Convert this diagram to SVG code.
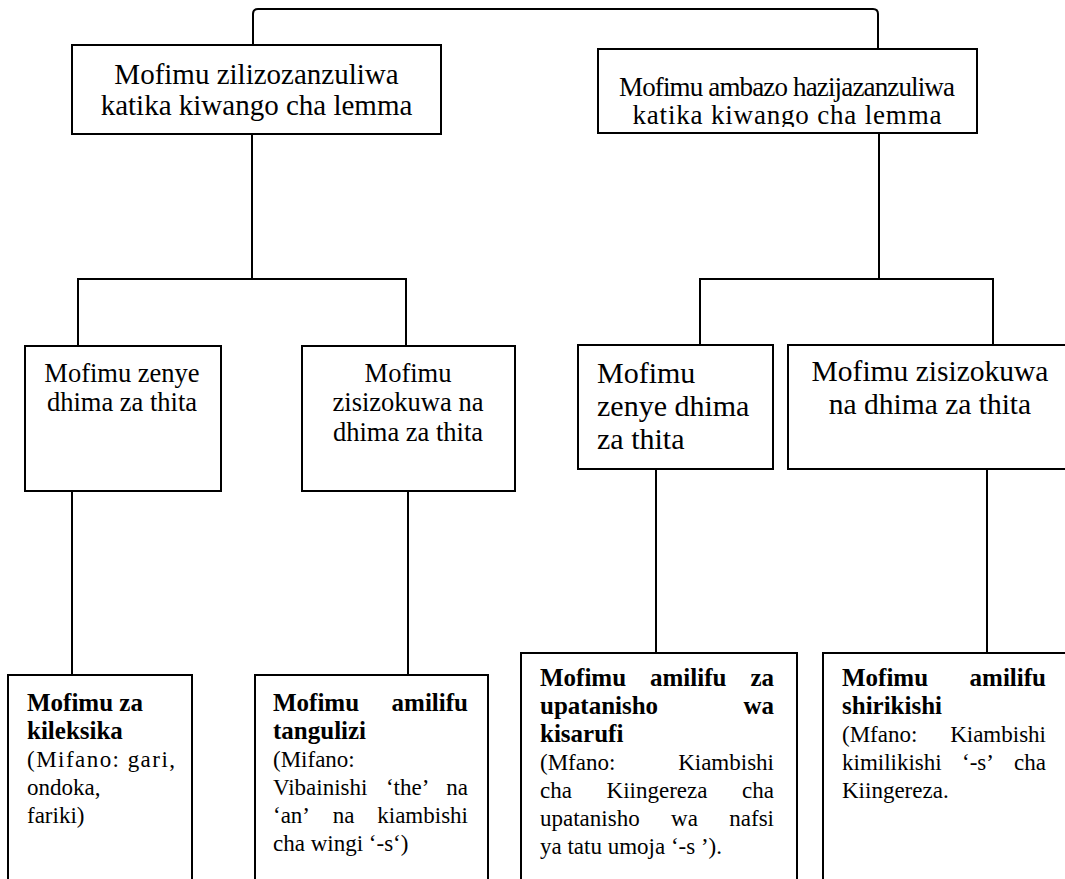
<svg xmlns="http://www.w3.org/2000/svg" width="1065" height="879" viewBox="0 0 1065 879">
<defs>
<style>
.box{fill:#fff;stroke:#000;stroke-width:2}
.conn{fill:none;stroke:#000;stroke-width:2}
text{font-family:"Liberation Serif","Times New Roman",serif;fill:#000}
.h1{font-size:29px;text-anchor:middle}
.h2{font-size:27px;text-anchor:middle}
.m1{font-size:26.5px;text-anchor:middle}
.m2{font-size:30px}
.m3{font-size:29.5px;text-anchor:middle}
.bd{font-size:23px}
.bb{font-size:25px;font-weight:bold}
.e{text-anchor:end}
</style>
<clipPath id="clip2"><rect x="598" y="49" width="380" height="78"/></clipPath>
</defs>
<rect width="1065" height="879" fill="#fff"/>
<g id="connectors">
<path class="conn" d="M253,45 V14 Q253,9 258,9 H873 Q878,9 878,14 V49"/>
<path class="conn" d="M252,134 V279"/>
<path class="conn" d="M78,346 V279 H406 V346"/>
<path class="conn" d="M879,133 V279"/>
<path class="conn" d="M700,345 V279 H993 V345"/>
<path class="conn" d="M72,490 V675"/>
<path class="conn" d="M408,490 V675"/>
<path class="conn" d="M656,469 V653"/>
<path class="conn" d="M987,469 V653"/>
</g>
<g id="node-lemma-zilizozanzuliwa">
<rect class="box" x="72" y="45" width="369" height="89"/>
<text class="h1" x="256.5" y="84">Mofimu zilizozanzuliwa</text>
<text class="h1" x="256.5" y="115">katika kiwango cha lemma</text>
</g>
<g id="node-lemma-hazijazanzuliwa">
<rect class="box" x="598" y="49" width="379" height="84"/>
<g clip-path="url(#clip2)">
<text class="h2" x="787" y="96" textLength="336">Mofimu ambazo hazijazanzuliwa</text>
<text class="h2" x="787" y="124" textLength="309">katika kiwango cha lemma</text>
</g>
</g>
<g id="node-a">
<rect class="box" x="25" y="346" width="196" height="145"/>
<text class="m1" x="122" y="382">Mofimu zenye</text>
<text class="m1" x="122" y="411">dhima za thita</text>
</g>
<g id="node-b">
<rect class="box" x="302" y="346" width="213" height="145"/>
<text class="m1" x="408" y="382">Mofimu</text>
<text class="m1" x="408" y="411">zisizokuwa na</text>
<text class="m1" x="408" y="441">dhima za thita</text>
</g>
<g id="node-c">
<rect class="box" x="578" y="345" width="195" height="124"/>
<text class="m2" x="597" y="383">Mofimu</text>
<text class="m2" x="597" y="416">zenye dhima</text>
<text class="m2" x="597" y="449">za thita</text>
</g>
<g id="node-d">
<rect class="box" x="788" y="345" width="290" height="124"/>
<text class="m3" x="930" y="381">Mofimu zisizokuwa</text>
<text class="m3" x="930" y="414">na dhima za thita</text>
</g>
<g id="node-e">
<rect class="box" x="8" y="675" width="184" height="230"/>
<text class="bb" x="27" y="711">Mofimu za</text>
<text class="bb" x="27" y="739">kileksika</text>
<text class="bd" x="27" y="767" textLength="148">(Mifano: gari,</text>
<text class="bd" x="27" y="795">ondoka,</text>
<text class="bd" x="27" y="823">fariki)</text>
</g>
<g id="node-f">
<rect class="box" x="255" y="675" width="233" height="230"/>
<text class="bb" x="273" y="711">Mofimu</text>
<text class="bb e" x="468" y="711">amilifu</text>
<text class="bb" x="273" y="739">tangulizi</text>
<text class="bd" x="273" y="767">(Mifano:</text>
<text class="bd" x="273" y="795">Vibainishi</text>
<text class="bd" x="385.9" y="795">‘the’</text>
<text class="bd e" x="468" y="795">na</text>
<text class="bd" x="273" y="823">‘an’</text>
<text class="bd" x="332.8" y="823">na</text>
<text class="bd e" x="468" y="823">kiambishi</text>
<text class="bd" x="273" y="851">cha wingi ‘-s‘)</text>
</g>
<g id="node-g">
<rect class="box" x="521" y="653" width="276" height="250"/>
<text class="bb" x="540" y="686">Mofimu</text>
<text class="bb" x="650" y="686">amilifu</text>
<text class="bb e" x="774" y="686">za</text>
<text class="bb" x="540" y="714">upatanisho</text>
<text class="bb e" x="774" y="714">wa</text>
<text class="bb" x="540" y="742">kisarufi</text>
<text class="bd" x="540" y="770">(Mfano:</text>
<text class="bd e" x="774" y="770">Kiambishi</text>
<text class="bd" x="540" y="798">cha</text>
<text class="bd" x="606.6" y="798">Kiingereza</text>
<text class="bd e" x="774" y="798">cha</text>
<text class="bd" x="540" y="826">upatanisho</text>
<text class="bd" x="671.1" y="826">wa</text>
<text class="bd e" x="774" y="826">nafsi</text>
<text class="bd" x="540" y="854">ya tatu umoja ‘-s ’).</text>
</g>
<g id="node-h">
<rect class="box" x="823" y="653" width="260" height="250"/>
<text class="bb" x="842" y="686">Mofimu</text>
<text class="bb e" x="1046" y="686">amilifu</text>
<text class="bb" x="842" y="714">shirikishi</text>
<text class="bd" x="842" y="742">(Mfano:</text>
<text class="bd e" x="1046" y="742">Kiambishi</text>
<text class="bd" x="842" y="770">kimilikishi</text>
<text class="bd" x="962" y="770">‘-s’</text>
<text class="bd e" x="1046" y="770">cha</text>
<text class="bd" x="842" y="798">Kiingereza.</text>
</g>
</svg>
